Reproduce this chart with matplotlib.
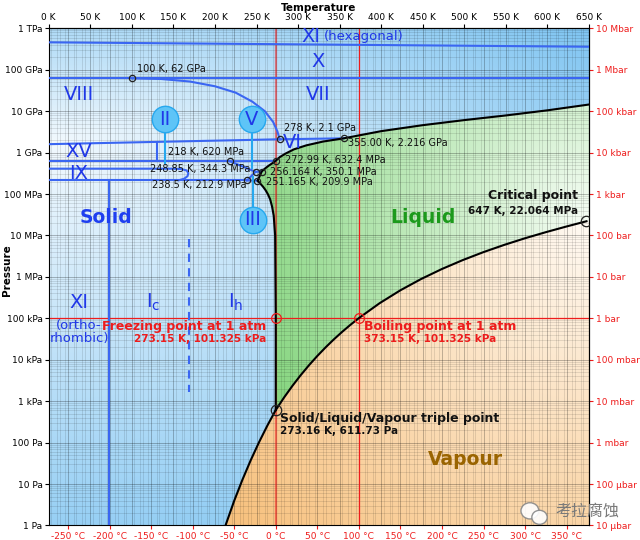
import matplotlib
matplotlib.use('Agg')
import matplotlib.pyplot as plt
import numpy as np
from matplotlib.patches import Polygon, Ellipse
from matplotlib.colors import to_rgb
from matplotlib.ticker import NullLocator

# phase boundaries (T in K, p in Pa)
sub_T = [212.7, 223.15, 233.15, 243.15, 253.15, 263.15, 273.16]
sub_p = [1.0, 3.94, 12.84, 38.0, 103.3, 259.9, 611.73]

vap_T = [273.16, 283.15, 293.15, 303.15, 313.15, 323.15, 333.15, 343.15, 353.15, 363.15,
         373.15, 398.15, 423.15, 448.15, 473.15, 498.15, 523.15, 548.15, 573.15, 598.15,
         623.15, 647.0]
vap_p = [611.73, 1228, 2339, 4247, 7384, 12352, 19946, 31201, 47414, 70182,
         101325, 232200, 476200, 892400, 1.555e6, 2.548e6, 3.976e6, 5.942e6, 8.588e6, 1.204e7,
         1.653e7, 2.2064e7]

meltIh_T = [273.16, 273.15, 272.4, 270.7, 268.7, 266.4, 263.6, 260.8, 257.9, 255.0, 252.3, 251.165]
meltIh_p = [611.73, 101325, 1e7, 3e7, 5e7, 7.5e7, 1e8, 1.25e8, 1.5e8, 1.75e8, 2e8, 2.099e8]
meltIII_T = [251.165, 253.0, 254.8, 256.164]
meltIII_p = [2.099e8, 2.5e8, 3.0e8, 3.501e8]
meltV_T = [256.164, 260.0, 265.0, 270.0, 272.99]
meltV_p = [3.501e8, 4.1e8, 4.9e8, 5.7e8, 6.324e8]
meltVI_T = [272.99, 278.0, 285.0, 295.0, 310.0, 330.0, 355.0]
meltVI_p = [6.324e8, 7.8e8, 9.5e8, 1.2e9, 1.5e9, 1.85e9, 2.216e9]
meltVII_T = [355.0, 400.0, 450.0, 500.0, 550.0, 600.0, 650.0]
meltVII_p = [2.216e9, 3.3e9, 4.6e9, 6.1e9, 7.9e9, 10.5e9, 14.5e9]

# solid-solid boundaries
hexX_T, hexX_p = [0, 650], [4.6e11, 3.6e11]
X_T, X_p = [0, 650], [6.2e10, 6.2e10]
VIII_VII_T = [100, 135, 170, 200, 225, 245, 260, 270, 275, 278]
VIII_VII_p = [6.2e10, 6.0e10, 5.2e10, 4.0e10, 2.8e10, 1.7e10, 1.0e10, 5.5e9, 3.3e9, 2.1e9]
VIII_VI_T, VIII_VI_p = [0, 278], [1.6e9, 2.1e9]
VII_VI_T, VII_VI_p = [278, 355], [2.1e9, 2.216e9]
XV_T, XV_p = [130, 130], [6.2e8, 1.75e9]
II_VI_T, II_VI_p = [0, 218], [6.2e8, 6.2e8]
V_VI_T, V_VI_p = [218, 272.99], [6.2e8, 6.324e8]
II_V_T, II_V_p = [218, 248.85], [6.2e8, 3.443e8]
III_V_T, III_V_p = [248.85, 256.164], [3.443e8, 3.501e8]
II_III_T, II_III_p = [238.5, 248.85], [2.129e8, 3.443e8]
Ih_II_T, Ih_II_p = [0, 238.5], [2.129e8, 2.129e8]
Ih_III_T, Ih_III_p = [238.5, 251.165], [2.129e8, 2.099e8]
IX_T = [0, 150, 160, 166, 168, 167, 163, 156]
IX_p = [4.1e8, 4.1e8, 4.0e8, 3.7e8, 3.2e8, 2.7e8, 2.35e8, 2.13e8]
XIo_T, XIo_p = [72, 72], [2.129e8, 1.0]
Ic_T, Ic_p = [169, 169], [8e6, 1.7e3]

# labelled points
tri_T = [100, 278, 355.0, 218, 272.99, 248.85, 256.164, 238.5, 251.165]
tri_p = [6.2e10, 2.1e9, 2.216e9, 6.2e8, 6.324e8, 3.443e8, 3.501e8, 2.129e8, 2.099e8]
tri_lab = ['100 K, 62 GPa', '278 K, 2.1 GPa', '355.00 K, 2.216 GPa', '218 K, 620 MPa',
           '272.99 K, 632.4 MPa', '248.85 K, 344.3 MPa', '256.164 K, 350.1 MPa',
           '238.5 K, 212.9 MPa', '251.165 K, 209.9 MPa']
lab_T = [106, 283, 360, 144, 284, 243, 266, 238, 262]
lab_p = [1.05e11, 3.9e9, 1.67e9, 1.06e9, 6.5e8, 4.06e8, 3.5e8, 1.63e8, 1.92e8]
lab_ha = ['left', 'left', 'left', 'left', 'left', 'right', 'left', 'right', 'left']

triple_T, triple_p = 273.16, 611.73
crit_T, crit_p = 647.0, 2.2064e7
freeze_T, boil_T, atm_p = 273.15, 373.15, 101325

K_ticks = list(range(0, 651, 50))
C_ticks = list(range(-250, 351, 50))
p_ticks = [10.0 ** k for k in range(13)]
p_labels = ['1 Pa', '10 Pa', '100 Pa', '1 kPa', '10 kPa', '100 kPa', '1 MPa', '10 MPa',
            '100 MPa', '1 GPa', '10 GPa', '100 GPa', '1 TPa']
bar_labels = ['10 µbar', '100 µbar', '1 mbar', '10 mbar', '100 mbar', '1 bar', '10 bar',
              '100 bar', '1 kbar', '10 kbar', '100 kbar', '1 Mbar', '10 Mbar']

BLUE = '#3a66f2'
LBLUE = '#27a8ee'
TXT = '#2038e8'
RED = '#ee1c1c'

fig = plt.figure(figsize=(6.4, 5.4), dpi=100)
ax = fig.add_axes([0.0761, 0.0269, 0.8442, 0.9206])
ax.set_yscale('log')
ax.set_xlim(0, 650)
ax.set_ylim(1, 1e12)
ax.set_autoscale_on(False)

# region polygons
melt_T = meltIh_T + meltIII_T[1:] + meltV_T[1:] + meltVI_T[1:] + meltVII_T[1:]
melt_p = meltIh_p + meltIII_p[1:] + meltV_p[1:] + meltVI_p[1:] + meltVII_p[1:]
liq = list(zip(melt_T, melt_p)) + [(650, crit_p)] + list(zip(vap_T[::-1], vap_p[::-1]))
vapr = list(zip(sub_T, sub_p)) + list(zip(vap_T[1:], vap_p[1:])) + [(650, crit_p), (650, 1)]
sol = [(0, 1)] + list(zip(sub_T, sub_p)) + list(zip(melt_T[1:], melt_p[1:])) + [(650, 1e12), (0, 1e12)]

W, H = 540, 497
u, v = np.meshgrid(np.linspace(0, 1, W), np.linspace(0, 1, H))
cu, cv = 1.0, np.log10(crit_p) / 12


def mix(c0, c1, t):
    c0, c1 = np.array(to_rgb(c0)), np.array(to_rgb(c1))
    return c0 * (1 - t[..., None]) + c1 * t[..., None]


dv = v - 0.77
t_sol = np.clip(np.sqrt((0.8 * u) ** 2 + (np.where(dv > 0, 2.5, 1.0) * dv) ** 2), 0, 1)
d_cp = np.sqrt(((u - cu) * W) ** 2 + ((v - cv) * H) ** 2)
t_liq = np.clip(d_cp / 380, 0, 1)
t_vap = np.clip(d_cp / 480, 0, 1)
grads = [(sol, mix('#f2f9fe', '#7cc3f1', t_sol)),
         (liq, mix('#f6fdf5', '#80d379', t_liq)),
         (vapr, mix('#fffaf3', '#f7bf7a', t_vap))]
for poly, img in grads:
    im = ax.imshow(img, extent=(0, 1, 0, 1), transform=ax.transAxes, origin='lower',
                   aspect='auto', zorder=0, interpolation='bilinear')
    im.set_clip_path(Polygon(poly, closed=True, transform=ax.transData))

# grid: kelvin and celsius, log pressure
for k in range(0, 651, 10):
    ax.axvline(k, color='k', alpha=0.28 if k % 50 == 0 else 0.12, lw=0.6, zorder=1)
for c in range(-270, 380, 10):
    if 0 <= c + 273.15 <= 650:
        ax.axvline(c + 273.15, color='k', alpha=0.28 if c % 50 == 0 else 0.12, lw=0.6, zorder=1)
for d in range(12):
    for m in range(1, 10):
        ax.axhline(m * 10.0 ** d, color='k', alpha=0.3 if m == 1 else 0.12, lw=0.6, zorder=1)

# reference lines at 0 degC, 100 degC and 1 atm
ax.axvline(freeze_T, color=RED, lw=1.6, alpha=0.55, zorder=2)
ax.axvline(boil_T, color=RED, lw=0.9, zorder=2)
ax.axhline(atm_p, color=RED, lw=0.9, zorder=2)

# solid-solid boundaries
for tt, pp in [(hexX_T, hexX_p), (X_T, X_p), (VIII_VII_T, VIII_VII_p), (VIII_VI_T, VIII_VI_p),
               (VII_VI_T, VII_VI_p), (XV_T, XV_p), (II_VI_T, II_VI_p), (V_VI_T, V_VI_p),
               (II_V_T, II_V_p), (III_V_T, III_V_p), (II_III_T, II_III_p), (Ih_II_T, Ih_II_p),
               (Ih_III_T, Ih_III_p), (IX_T, IX_p), (XIo_T, XIo_p)]:
    ax.plot(tt, pp, color=BLUE, lw=1.5, zorder=3)
ax.plot(Ic_T, Ic_p, color=BLUE, lw=1.5, ls=(0, (4, 3)), zorder=3)

# liquid / vapour boundaries
ax.plot(sub_T, sub_p, color='k', lw=1.5, zorder=4)
ax.plot(vap_T, vap_p, color='k', lw=1.5, zorder=4)
ax.plot(melt_T, melt_p, color='k', lw=1.5, zorder=4)

# circled phase labels
for T0, p0, p1, s in [(140, 6.4e9, 5.6e8, 'II'), (244.5, 6.4e9, 4.2e8, 'V'), (245.2, 2.4e7, 2.6e8, 'III')]:
    ax.plot([T0, T0], [p0, p1], color=LBLUE, lw=1.5, zorder=3)
    ax.plot(T0, p0, 'o', ms=19, mfc='#5ec4f7', mec=LBLUE, mew=1, zorder=5)
    ax.text(T0, p0, s, color=TXT, fontsize=14, ha='center', va='center', zorder=6)

# points
ax.plot(tri_T, tri_p, 'o', ms=4.5, mfc='none', mec='#222222', mew=0.9, zorder=6)
ax.plot([triple_T, crit_T], [triple_p, crit_p], 'o', ms=7.5, mfc='none', mec='#222222', mew=0.9, zorder=6)
ax.plot([freeze_T, boil_T], [atm_p, atm_p], 'o', ms=7, mfc='none', mec=RED, mew=0.9, zorder=6)
for s, tx, py, ha in zip(tri_lab, lab_T, lab_p, lab_ha):
    ax.text(tx, py, s, fontsize=7, ha=ha, va='center', color='#111111', zorder=7)

# region labels
big = dict(color=TXT, fontsize=14, ha='center', va='center', zorder=7)
ax.text(315, 6.2e11, 'XI', **big)
ax.text(331, 6.2e11, '(hexagonal)', color=TXT, fontsize=9.5, ha='left', va='center', zorder=7)
ax.text(324.6, 1.59e11, 'X', **big)
ax.text(36.5, 2.6e10, 'VIII', **big)
ax.text(324, 2.6e10, 'VII', **big)
ax.text(293.4, 1.77e9, 'VI', **big)
ax.text(36.5, 1.09e9, 'XV', **big)
ax.text(36.5, 3.08e8, 'IX', **big)
ax.text(36.7, 2.45e5, 'XI', **big)
ax.text(36.5, 4.6e4, '(ortho-\nrhombic)', color=TXT, fontsize=9.5, ha='center', va='center',
        linespacing=1.0, zorder=7)
ax.text(125.3, 2.45e5, r'$\mathregular{I_c}$', **big)
ax.text(225, 2.45e5, r'$\mathregular{I_h}$', **big)
ax.text(69.3, 2.7e7, 'Solid', color='#1f3ff0', fontsize=13.5, weight='bold', ha='center', va='center', zorder=7)
ax.text(450.3, 2.7e7, 'Liquid', color='#1c9a1c', fontsize=13.5, weight='bold', ha='center', va='center', zorder=7)
ax.text(500.8, 40, 'Vapour', color='#9a6400', fontsize=13.5, weight='bold', ha='center', va='center', zorder=7)

ax.text(262.3, 6.3e4, 'Freezing point at 1 atm', color=RED, fontsize=9, weight='bold', ha='right', va='center', zorder=7)
ax.text(262.3, 3.2e4, '273.15 K, 101.325 kPa', color=RED, fontsize=7.5, weight='bold', ha='right', va='center', zorder=7)
ax.text(379.8, 6.3e4, 'Boiling point at 1 atm', color=RED, fontsize=9, weight='bold', ha='left', va='center', zorder=7)
ax.text(379.8, 3.2e4, '373.15 K, 101.325 kPa', color=RED, fontsize=7.5, weight='bold', ha='left', va='center', zorder=7)
ax.text(637.3, 9.06e7, 'Critical point', color='#111111', fontsize=9, weight='bold', ha='right', va='center', zorder=7)
ax.text(637.3, 3.8e7, '647 K, 22.064 MPa', color='#111111', fontsize=7.5, weight='bold', ha='right', va='center', zorder=7)
ax.text(278.5, 380, 'Solid/Liquid/Vapour triple point', color='#111111', fontsize=9, weight='bold', ha='left', va='center', zorder=7)
ax.text(278.5, 189, '273.16 K, 611.73 Pa', color='#111111', fontsize=7.5, weight='bold', ha='left', va='center', zorder=7)

# axes and ticks
ax.set_yticks(p_ticks)
ax.set_yticklabels(p_labels)
ax.yaxis.set_minor_locator(NullLocator())
ax.set_xticks([c + 273.15 for c in C_ticks])
ax.set_xticklabels([f'{c} °C' for c in C_ticks], color=RED)
ax.tick_params(axis='both', labelsize=6.5, length=3, pad=1.5)
ax.tick_params(axis='x', colors=RED)

top = ax.secondary_xaxis('top')
top.set_xticks(K_ticks)
top.set_xticklabels([f'{k} K' for k in K_ticks])
top.tick_params(labelsize=6.5, length=3, pad=1.5)

right = ax.secondary_yaxis('right')
right.set_yticks(p_ticks)
right.set_yticklabels(bar_labels)
right.yaxis.set_minor_locator(NullLocator())
right.tick_params(labelsize=6.5, length=3, pad=2, colors=RED)

fig.text(0.497, 0.985, 'Temperature', fontsize=7.5, weight='bold', ha='center', va='center')
fig.text(0.011, 0.5, 'Pressure', fontsize=7.5, weight='bold', rotation=90, ha='center', va='center')

# watermark
fig.patches.append(Ellipse((0.828, 0.054), 0.028, 0.03, transform=fig.transFigure,
                           fc='white', ec='#888888', lw=1, alpha=0.9, zorder=10))
fig.patches.append(Ellipse((0.843, 0.042), 0.024, 0.026, transform=fig.transFigure,
                           fc='white', ec='#888888', lw=1, alpha=0.9, zorder=10))
fig.text(0.917, 0.054, '考拉腐蚀', fontsize=11.5, color='#7a7a7a', ha='center', va='center',
         family=['Noto Sans CJK SC', 'DejaVu Sans'], zorder=11)

fig.savefig('out.png', dpi=100)
